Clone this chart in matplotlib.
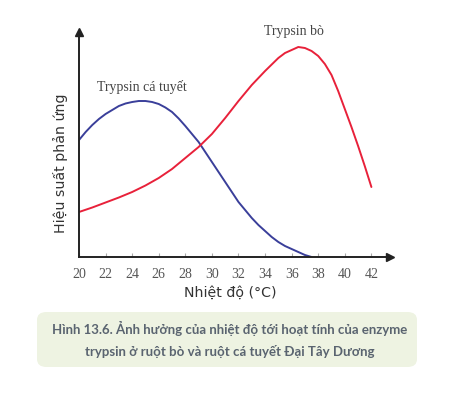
import matplotlib
matplotlib.use("Agg")
import matplotlib.pyplot as plt
from matplotlib.patches import FancyBboxPatch

# Data (y in arbitrary efficiency units)
fish_temp = [20, 20.5, 21, 21.5, 22, 22.5, 23, 23.5, 24, 24.5, 25, 25.5, 26, 26.5, 27, 27.5, 28, 28.5,
             29, 29.5, 30, 30.5, 31, 31.5, 32, 32.5, 33, 33.5, 34, 34.5, 35, 35.5, 36, 36.5, 37, 37.5]
fish_eff = [117, 125, 132, 138, 143, 147, 151, 153.5, 155, 156, 156, 155, 153, 149.5, 145, 138.5, 131, 123,
            115, 105, 95, 85, 75, 65, 55, 47, 39, 32, 26, 20, 15, 11, 8, 5, 2, 0]

cow_temp = [20, 21, 22, 23, 24, 25, 26, 27, 28, 29, 30, 31, 32, 33, 34, 35, 35.5, 36, 36.5, 37,
            37.5, 38, 38.5, 39, 39.5, 40, 40.5, 41, 41.5, 42]
cow_eff = [45, 49.5, 54.5, 59.5, 65, 71.5, 79, 88, 99, 110, 123, 139, 156, 172, 186, 199, 204, 207, 210, 209,
           206, 201, 193, 182, 166, 148, 130, 111, 91, 70]

xticks = list(range(20, 43, 2))

fig = plt.figure(figsize=(4.75, 3.94), dpi=100)
ax = fig.add_axes([79/475, 137/394, 311/475, 225/394])
ax.set_xlim(20, 43.4)
ax.set_ylim(0, 225)

ax.plot(fish_temp, fish_eff, color="#3a3f9a", lw=1.4, solid_capstyle="round", solid_joinstyle="round")
ax.plot(cow_temp, cow_eff, color="#e8213a", lw=1.4, solid_capstyle="round", solid_joinstyle="round")

for s in ["top", "right"]:
    ax.spines[s].set_visible(False)
for s in ["left", "bottom"]:
    ax.spines[s].set_linewidth(1.4)
    ax.spines[s].set_color("#222222")
ax.plot(1, 0, ">", color="#222222", ms=6, transform=ax.transAxes, clip_on=False)
ax.plot(0, 1, "^", color="#222222", ms=6, transform=ax.transAxes, clip_on=False)

ax.set_xticks(xticks)
ax.set_xticklabels([str(t) for t in xticks], family="Liberation Serif", fontsize=10, color="#555555")
ax.tick_params(axis="x", length=3, width=0.8, color="#aaaaaa", pad=8, direction="in")
ax.set_yticks([])

ax.set_xlabel("Nhiệt độ (°C)", fontsize=10.2, color="#333333", family="DejaVu Sans")
ax.xaxis.label.set_va("center")
ax.xaxis.set_label_coords((230 - 79) / 311, (257 - 293) / 225)
ax.set_ylabel("Hiệu suất phản ứng", fontsize=10.2, color="#333333", family="DejaVu Sans")
ax.yaxis.label.set_va("center")
ax.yaxis.set_label_coords((60 - 79) / 311, (257 - 163) / 225)

ax.text(36.2, 226, "Trypsin bò", family="Liberation Serif", fontsize=10, color="#444444", ha="center", va="center")
ax.text(24.7, 170, "Trypsin cá tuyết", family="Liberation Serif", fontsize=10, color="#444444", ha="center", va="center")

box = FancyBboxPatch((37/475, 1 - 367/394), (417-37)/475, (367-312)/394,
                     boxstyle="round,pad=0,rounding_size=0.02",
                     transform=fig.transFigure, facecolor="#eef3e2", edgecolor="none")
fig.patches.append(box)
cap_font = ["Lato", "DejaVu Sans"]
fig.text(230/475, 1 - 328/394, "Hình 13.6. Ảnh hưởng của nhiệt độ tới hoạt tính của enzyme",
         family=cap_font, fontsize=9.5, fontweight="bold", color="#5a6470", ha="center", va="center")
fig.text(230/475, 1 - 352/394, "trypsin ở ruột bò và ruột cá tuyết Đại Tây Dương",
         family=cap_font, fontsize=9.5, fontweight="bold", color="#5a6470", ha="center", va="center")

fig.savefig("out.png", dpi=100)
